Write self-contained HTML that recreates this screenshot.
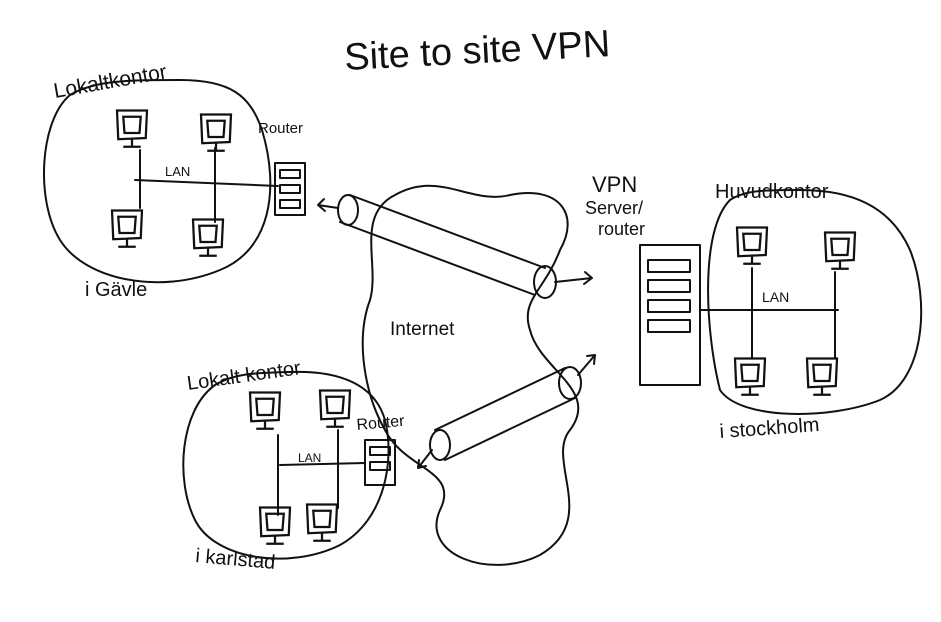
<!DOCTYPE html>
<html><head><meta charset="utf-8"><style>
html,body{margin:0;padding:0;background:#fff;}
svg{display:block}
text{font-family:"Liberation Sans",sans-serif;fill:#111;}
</style></head><body>
<svg width="941" height="622" viewBox="0 0 941 622" xmlns="http://www.w3.org/2000/svg">
<defs>
<g id="pc" transform="scale(1.25)">
  <path d="M-12,-14 L12,-14 L11,8 L-11,9 Z M-7,-9 L7,-9 L6,4 L-6,4 Z" fill="none" stroke="#111" stroke-width="1.8"/>
  <path d="M0,9 L0,15 M-7,15 L7,15" stroke="#111" stroke-width="1.8"/>
</g>
</defs>
<g fill="none" stroke="#111" stroke-width="2" stroke-linecap="round" stroke-linejoin="round">
<path d="M70,95 C40,120 35,200 60,240 C85,280 160,295 220,270 C270,250 280,190 262,130 C250,95 230,80 180,80 C130,80 95,80 70,95 Z"/>
<path d="M135,180 L278,186"/>
<path d="M140,150 L140,208 M215,148 L215,222"/>
<rect x="275" y="163" width="30" height="52"/>
<rect x="280" y="170" width="20" height="8"/><rect x="280" y="185" width="20" height="8"/><rect x="280" y="200" width="20" height="8"/>
<path d="M395,195 C440,170 470,205 510,195 C560,185 580,215 560,250 C545,290 520,300 530,330 C540,370 600,390 570,430 C545,460 600,520 540,555 C490,580 420,555 440,510 C460,470 405,470 385,430 C365,395 355,340 370,300 C380,265 355,215 395,195 Z"/>
<path d="M350,195 L545,268 M340,222 L535,295"/>
<ellipse cx="348" cy="210" rx="10" ry="15"/>
<ellipse cx="545" cy="282" rx="11" ry="16"/>
<path d="M338,208 L318,205 M324,199 L318,205 L325,211"/>
<path d="M555,282 L592,278 M585,272 L592,278 L584,284"/>
<path d="M215,385 C180,410 175,480 195,520 C215,560 290,570 340,545 C385,520 395,460 385,420 C375,385 340,370 290,372 C255,373 235,373 215,385 Z"/>
<path d="M280,465 L365,463"/>
<path d="M278,435 L278,515 M338,430 L338,508"/>
<rect x="365" y="440" width="30" height="45"/>
<rect x="370" y="447" width="20" height="8"/><rect x="370" y="462" width="20" height="8"/>
<path d="M435,430 L565,368 M445,460 L575,398"/>
<ellipse cx="440" cy="445" rx="10" ry="15"/>
<ellipse cx="570" cy="383" rx="11" ry="16"/>
<path d="M432,450 L418,468 M419,460 L418,468 L426,466"/>
<path d="M578,375 L595,355 M587,356 L595,355 L594,364"/>
<rect x="640" y="245" width="60" height="140"/>
<rect x="648" y="260" width="42" height="12"/><rect x="648" y="280" width="42" height="12"/><rect x="648" y="300" width="42" height="12"/><rect x="648" y="320" width="42" height="12"/>
<path d="M730,200 C700,230 705,330 720,390 C740,420 830,420 880,400 C925,380 930,300 910,250 C890,205 850,190 800,190 C765,190 745,190 730,200 Z"/>
<path d="M700,310 L838,310"/>
<path d="M752,268 L752,358 M835,272 L835,358"/>
</g>
<use href="#pc" x="132" y="128"/>
<use href="#pc" x="216" y="132"/>
<use href="#pc" x="127" y="228"/>
<use href="#pc" x="208" y="237"/>
<use href="#pc" x="265" y="410"/>
<use href="#pc" x="335" y="408"/>
<use href="#pc" x="275" y="525"/>
<use href="#pc" x="322" y="522"/>
<use href="#pc" x="752" y="245"/>
<use href="#pc" x="840" y="250"/>
<use href="#pc" x="750" y="376"/>
<use href="#pc" x="822" y="376"/>
<text x="345" y="70" font-size="38" font-weight="300" transform="rotate(-3 345 70)">Site to site VPN</text>
<text x="55" y="98" font-size="21" transform="rotate(-10 55 98)">Lokaltkontor</text>
<text x="258" y="133" font-size="15">Router</text>
<text x="165" y="176" font-size="13">LAN</text>
<text x="85" y="296" font-size="20">i  Gävle</text>
<text x="390" y="335" font-size="19">Internet</text>
<text x="188" y="390" font-size="20" transform="rotate(-8 188 390)">Lokalt kontor</text>
<text x="357" y="430" font-size="16" transform="rotate(-5 357 430)">Router</text>
<text x="298" y="462" font-size="12">LAN</text>
<text x="195" y="562" font-size="20" transform="rotate(5 195 562)">i karlstad</text>
<text x="592" y="192" font-size="22">VPN</text>
<text x="585" y="214" font-size="18">Server/</text>
<text x="598" y="235" font-size="18">router</text>
<text x="715" y="198" font-size="20">Huvudkontor</text>
<text x="762" y="302" font-size="14">LAN</text>
<text x="720" y="438" font-size="20" transform="rotate(-4 720 438)">i stockholm</text>
</svg>
</body></html>
